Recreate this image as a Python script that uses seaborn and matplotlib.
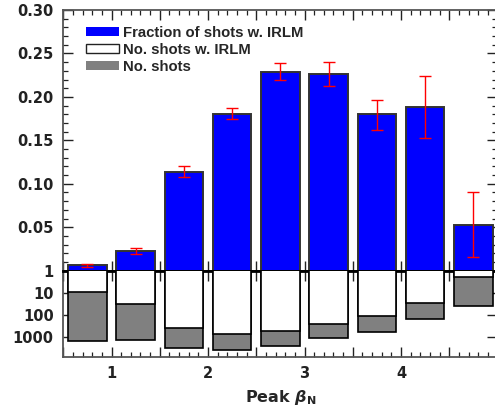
import numpy as np
import pandas as pd
import matplotlib
matplotlib.use("Agg")
import matplotlib.pyplot as plt
import seaborn as sns
from matplotlib.ticker import MultipleLocator, FuncFormatter, LogLocator, NullFormatter, FixedLocator
from matplotlib.patches import Patch

# ---- data ----
beta_bins = [0.75, 1.25, 1.75, 2.25, 2.75, 3.25, 3.75, 4.25, 4.75]
frac = [0.006, 0.023, 0.114, 0.1805, 0.229, 0.226, 0.180, 0.188, 0.0527]
frac_hi = [0.0073, 0.0265, 0.120, 0.187, 0.239, 0.2405, 0.197, 0.224, 0.090]
frac_lo = [0.0045, 0.0193, 0.108, 0.174, 0.2197, 0.212, 0.1623, 0.153, 0.0154]
n_irlm = [9, 33, 380, 720, 570, 250, 110, 29, 2]
n_tot = [1600, 1450, 3350, 4000, 2500, 1110, 610, 154, 38]
legend_labels = ["Fraction of shots w. IRLM", "No. shots w. IRLM", "No. shots"]
frac_ticks = [0.05, 0.10, 0.15, 0.20, 0.25, 0.30]
count_ticks = [1, 10, 100, 1000]
x_labels = [1, 2, 3, 4]

sns.set_style("ticks")
plt.rcParams["font.family"] = ["DejaVu Sans"]
plt.rcParams["font.weight"] = "bold"
plt.rcParams["mathtext.fontset"] = "dejavusans"

FS = 10.5
SPINE = "#555555"

fig = plt.figure(figsize=(4.95, 4.13), dpi=100)
L, W = 63.3 / 495, (497.5 - 63.3) / 495
ax1 = fig.add_axes([L, (413 - 270.7) / 413, W, (270.7 - 10) / 413])
ax2 = fig.add_axes([L, (413 - 356.7) / 413, W, (356.7 - 270.7) / 413])

df = pd.DataFrame({"beta": beta_bins, "frac": frac, "lo": frac_lo, "hi": frac_hi,
                   "n_irlm": n_irlm, "n_tot": n_tot})

# upper panel: fraction
sns.barplot(data=df, x="beta", y="frac", native_scale=True, color="#0000ff", saturation=1,
            edgecolor="#333333", linewidth=1.4, errorbar=None, width=0.8, ax=ax1, zorder=3)
ax1.errorbar(df["beta"], df["frac"], yerr=[df["frac"] - df["lo"], df["hi"] - df["frac"]],
             fmt="none", ecolor="red", elinewidth=1.0, capsize=4.2, capthick=1.0, zorder=4)
ax1.set_xlim(0.5, 5.0)
ax1.set_ylim(0, 0.30)
ax1.set_xlabel("")
ax1.set_ylabel("")
ax1.yaxis.set_major_locator(FixedLocator(frac_ticks))
ax1.yaxis.set_major_formatter(FuncFormatter(lambda v, p: f"{v:.2f}"))
ax1.yaxis.set_minor_locator(MultipleLocator(0.01))

# lower panel: counts (log, inverted)
ax2.set_yscale("log")
sns.barplot(data=df, x="beta", y="n_tot", native_scale=True, color="#808080", saturation=1,
            edgecolor="black", linewidth=1.2, errorbar=None, width=0.8, ax=ax2, zorder=2)
sns.barplot(data=df, x="beta", y="n_irlm", native_scale=True, color="white", saturation=1,
            edgecolor="black", linewidth=1.2, errorbar=None, width=0.8, ax=ax2, zorder=3)
ax2.set_xlim(0.5, 5.0)
ax2.set_ylim(8000, 1)
ax2.set_xlabel("")
ax2.set_ylabel("")
ax2.yaxis.set_major_locator(FixedLocator(count_ticks))
ax2.yaxis.set_major_formatter(FuncFormatter(lambda v, p: f"{int(round(v))}"))
ax2.yaxis.set_minor_locator(LogLocator(base=10, subs=np.arange(2, 10)))
ax2.yaxis.set_minor_formatter(NullFormatter())

def xfmt(v, p):
    r = int(round(v))
    return f"{r}" if abs(v - r) < 1e-6 and r in x_labels else ""

for ax in (ax1, ax2):
    ax.xaxis.set_major_locator(MultipleLocator(0.5))
    ax.xaxis.set_minor_locator(MultipleLocator(0.1))
    ax.tick_params(axis="both", which="both", direction="in", top=True, bottom=True,
                   left=True, right=True, colors="#222222")
    ax.tick_params(axis="both", which="major", length=7, width=1.0, labelsize=FS, pad=7)
    ax.tick_params(axis="both", which="minor", length=3.5, width=0.9)
    for s in ax.spines.values():
        s.set_color(SPINE)
        s.set_linewidth(1.3)
    ax.spines["right"].set_visible(False)
    for lab in ax.get_yticklabels() + ax.get_xticklabels():
        lab.set_fontweight("bold")

ax1.xaxis.set_major_formatter(FuncFormatter(lambda v, p: ""))
ax2.xaxis.set_major_formatter(FuncFormatter(xfmt))
ax1.spines["bottom"].set_color("black")
ax1.spines["bottom"].set_linewidth(2)
ax2.spines["top"].set_color("black")
ax2.spines["top"].set_linewidth(2)
ax1.spines["bottom"].set_zorder(6)

ax2.set_xlabel(r"Peak $\boldsymbol{\beta}_{\mathbf{N}}$", fontsize=11.5, fontweight="bold", labelpad=5)

handles = [Patch(facecolor="#0000ff", edgecolor="none"),
           Patch(facecolor="white", edgecolor="#222222", linewidth=1),
           Patch(facecolor="#808080", edgecolor="none")]
leg = ax1.legend(handles, legend_labels, loc="upper left", frameon=False,
                 bbox_to_anchor=(86 / 495, 1 - 26 / 413), bbox_transform=fig.transFigure,
                 borderpad=0, borderaxespad=0, handlelength=2.2, handleheight=0.55,
                 handletextpad=0.32, labelspacing=0.2,
                 prop={"size": 10.7, "weight": "bold", "family": "Liberation Sans"})

fig.savefig("out.png", dpi=100)
